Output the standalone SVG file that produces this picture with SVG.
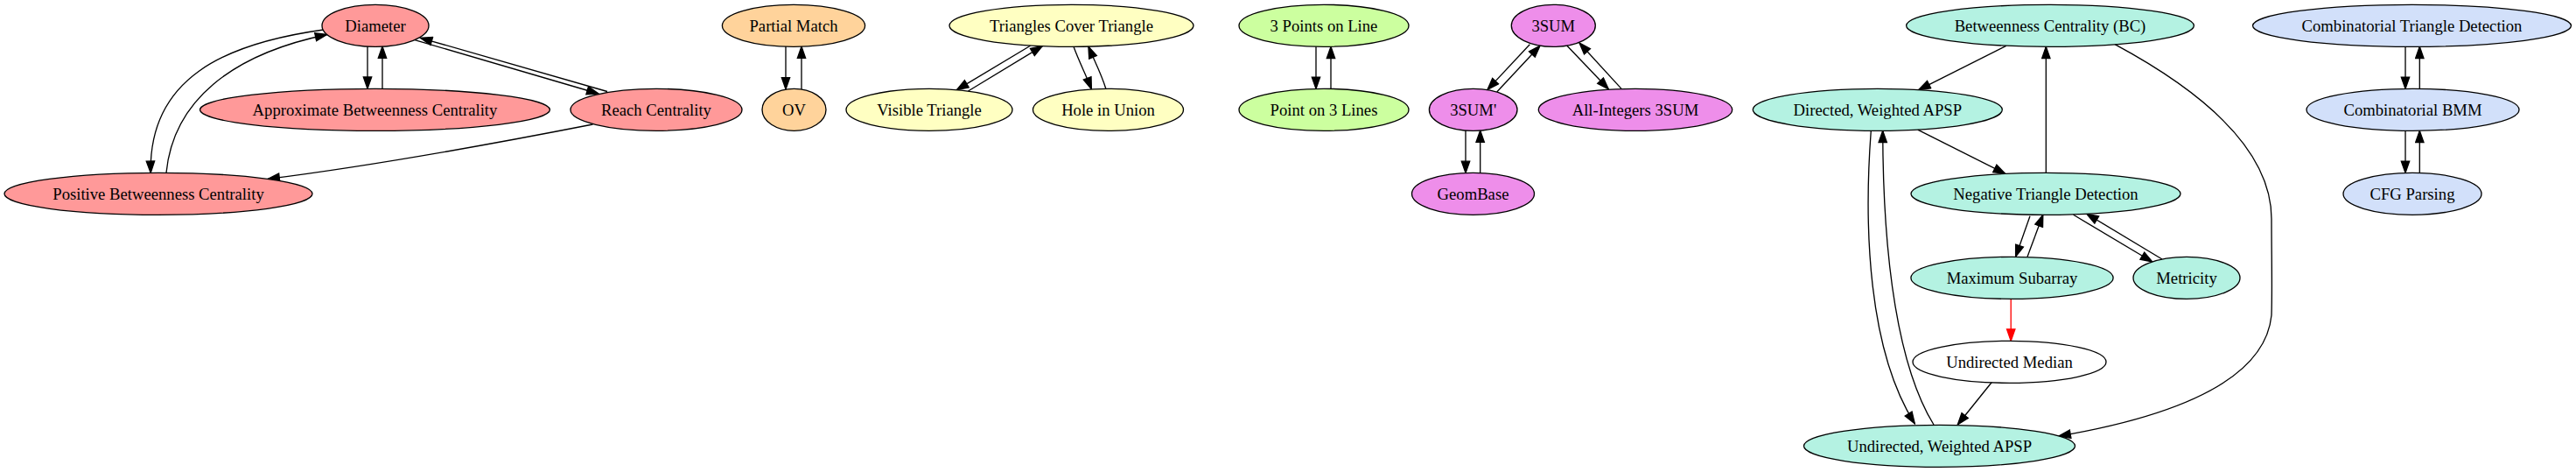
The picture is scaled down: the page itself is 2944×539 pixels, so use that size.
<svg xmlns="http://www.w3.org/2000/svg" width="2944" height="539" viewBox="0 0 2944 539">
<style>
  .n ellipse { stroke: #000; stroke-width: 1.33; }
  .n text { font-family: "Liberation Serif", "Times New Roman", serif; font-size: 18.67px; text-anchor: middle; fill: #000; }
  .red ellipse { fill: #ff9999; }
  .org ellipse { fill: #ffd39b; }
  .yel ellipse { fill: #ffffc2; }
  .grn ellipse { fill: #ccff9f; }
  .vio ellipse { fill: #ee8eea; }
  .teal ellipse { fill: #b4f2e2; }
  .blu ellipse { fill: #d2e0fa; }
  .wht ellipse { fill: #ffffff; }
  #edges path { fill: none; stroke: #000; stroke-width: 1.33; marker-end: url(#ah); }
  #edges path.redl { stroke: #ff0000; marker-end: url(#ahr); }
</style>
<defs>
  <marker id="ah" markerUnits="userSpaceOnUse" viewBox="-1 -1 15.5 11.5" markerWidth="15.5" markerHeight="11.5" refX="13.33" refY="4.67" orient="auto">
    <path d="M0,0 L13.33,4.67 L0,9.33 Z" fill="#000" stroke="#000" stroke-width="1.33"/>
  </marker>
  <marker id="ahr" markerUnits="userSpaceOnUse" viewBox="-1 -1 15.5 11.5" markerWidth="15.5" markerHeight="11.5" refX="13.33" refY="4.67" orient="auto">
    <path d="M0,0 L13.33,4.67 L0,9.33 Z" fill="#ff0000" stroke="#ff0000" stroke-width="1.33"/>
  </marker>
</defs>
<rect x="0" y="0" width="2944" height="539" fill="#ffffff"/>

<g id="edges">
  <path d="M420,53 L420,101.3"/>
  <path d="M437,101.5 L437,53"/>
  <path d="M474,45.6 L684,107"/>
  <path d="M694,104.5 L480.5,43.3"/>
  <path d="M369.5,34 C255,50 170,90 172.2,197.4"/>
  <path d="M190,197.4 C198,115 265,62 373.7,39.5"/>
  <path d="M677.5,142 C560,165 420,190 306,204.4"/>
  <path d="M898,53.1 L898,101.9"/>
  <path d="M916,102 L916,53.1"/>
  <path d="M1177.5,52.2 L1093.4,102.6"/>
  <path d="M1106.5,104 L1191.3,52.6"/>
  <path d="M1227,53.3 C1233,70 1241,85 1247.4,101.8"/>
  <path d="M1263.8,101.3 C1259,85 1251,70 1243.9,53.1"/>
  <path d="M1504,53.2 L1504,101.4"/>
  <path d="M1521,101.4 L1521,53.2"/>
  <path d="M1748.3,50.7 L1700,102.4"/>
  <path d="M1710.7,105 L1760,52.3"/>
  <path d="M1790.7,52 L1838.3,101.8"/>
  <path d="M1853.3,101.6 L1805,49"/>
  <path d="M1675,149 L1675,197.5"/>
  <path d="M1691.7,197.5 L1691.7,149"/>
  <path d="M2292.7,52.3 L2192.7,102.6"/>
  <path d="M2338.3,197.3 L2338.3,53.3"/>
  <path d="M2191.7,148.2 L2291.7,198.4"/>
  <path d="M2138.3,149.3 C2130,260 2135,400 2188.3,483.8"/>
  <path d="M2210,485 C2170,420 2152,300 2151.7,149.3"/>
  <path d="M2417,50.7 C2505,98 2596,165 2596,250 C2596,290 2597,330 2596,360 C2588,440 2470,478 2353,498"/>
  <path d="M2320,246.7 L2303.6,293.2"/>
  <path d="M2317,293.3 L2334.8,245.3"/>
  <path d="M2369.6,245.3 L2459.8,299"/>
  <path d="M2471,296 L2384.8,244.2"/>
  <path class="redl" d="M2298.2,341.3 L2298.2,389.3"/>
  <path d="M2276.7,436 L2237.3,485"/>
  <path d="M2749,53.2 L2749,101.4"/>
  <path d="M2765.3,101.4 L2765.3,53.2"/>
  <path d="M2749,149.3 L2749,197.4"/>
  <path d="M2765.3,197.4 L2765.3,149.3"/>
</g>

<g id="diameter" class="n red"><ellipse cx="429" cy="29.33" rx="61" ry="24"/><text x="429" y="35.5">Diameter</text></g>
<g id="approx_bc" class="n red"><ellipse cx="428.5" cy="125.33" rx="200" ry="24"/><text x="428.5" y="131.5">Approximate Betweenness Centrality</text></g>
<g id="reach" class="n red"><ellipse cx="750" cy="125.33" rx="98" ry="24"/><text x="750" y="131.5">Reach Centrality</text></g>
<g id="positive_bc" class="n red"><ellipse cx="181" cy="221.33" rx="176" ry="24"/><text x="181" y="227.5">Positive Betweenness Centrality</text></g>

<g id="partial_match" class="n org"><ellipse cx="907" cy="29.33" rx="81.6" ry="24"/><text x="907" y="35.5">Partial Match</text></g>
<g id="ov" class="n org"><ellipse cx="907.5" cy="125.33" rx="36.5" ry="24"/><text x="907.5" y="131.5">OV</text></g>

<g id="tct" class="n yel"><ellipse cx="1224.5" cy="29.33" rx="139.5" ry="24"/><text x="1224.5" y="35.5">Triangles Cover Triangle</text></g>
<g id="visible_triangle" class="n yel"><ellipse cx="1062" cy="125.33" rx="95" ry="24"/><text x="1062" y="131.5">Visible Triangle</text></g>
<g id="hole_in_union" class="n yel"><ellipse cx="1266.5" cy="125.33" rx="86" ry="24"/><text x="1266.5" y="131.5">Hole in Union</text></g>

<g id="three_points" class="n grn"><ellipse cx="1513" cy="29.33" rx="97" ry="24"/><text x="1513" y="35.5">3 Points on Line</text></g>
<g id="point_3lines" class="n grn"><ellipse cx="1513" cy="125.33" rx="97" ry="24"/><text x="1513" y="131.5">Point on 3 Lines</text></g>

<g id="threesum" class="n vio"><ellipse cx="1775.3" cy="29.33" rx="48" ry="24"/><text x="1775.3" y="35.5">3SUM</text></g>
<g id="threesum_p" class="n vio"><ellipse cx="1683.7" cy="125.33" rx="50.3" ry="24"/><text x="1683.7" y="131.5">3SUM'</text></g>
<g id="allint_3sum" class="n vio"><ellipse cx="1869" cy="125.33" rx="110.7" ry="24"/><text x="1869" y="131.5">All-Integers 3SUM</text></g>
<g id="geombase" class="n vio"><ellipse cx="1683.5" cy="221.33" rx="70" ry="24"/><text x="1683.5" y="227.5">GeomBase</text></g>

<g id="bc" class="n teal"><ellipse cx="2343" cy="29.33" rx="164.4" ry="24"/><text x="2343" y="35.5">Betweenness Centrality (BC)</text></g>
<g id="dapsp" class="n teal"><ellipse cx="2145.8" cy="125.33" rx="142.5" ry="24"/><text x="2145.8" y="131.5">Directed, Weighted APSP</text></g>
<g id="ntd" class="n teal"><ellipse cx="2338" cy="221.33" rx="154" ry="24"/><text x="2338" y="227.5">Negative Triangle Detection</text></g>
<g id="max_subarray" class="n teal"><ellipse cx="2299.5" cy="317.33" rx="115.6" ry="24"/><text x="2299.5" y="323.5">Maximum Subarray</text></g>
<g id="metricity" class="n teal"><ellipse cx="2499" cy="317.33" rx="61" ry="24"/><text x="2499" y="323.5">Metricity</text></g>
<g id="undirected_median" class="n wht"><ellipse cx="2296.5" cy="413.33" rx="110.5" ry="24"/><text x="2296.5" y="419.5">Undirected Median</text></g>
<g id="uapsp" class="n teal"><ellipse cx="2216.5" cy="509.33" rx="155" ry="24"/><text x="2216.5" y="515.5">Undirected, Weighted APSP</text></g>

<g id="ctd" class="n blu"><ellipse cx="2756.5" cy="29.33" rx="182" ry="24"/><text x="2756.5" y="35.5">Combinatorial Triangle Detection</text></g>
<g id="cbmm" class="n blu"><ellipse cx="2757.5" cy="125.33" rx="121.5" ry="24"/><text x="2757.5" y="131.5">Combinatorial BMM</text></g>
<g id="cfg" class="n blu"><ellipse cx="2757" cy="221.33" rx="79" ry="24"/><text x="2757" y="227.5">CFG Parsing</text></g>
</svg>
